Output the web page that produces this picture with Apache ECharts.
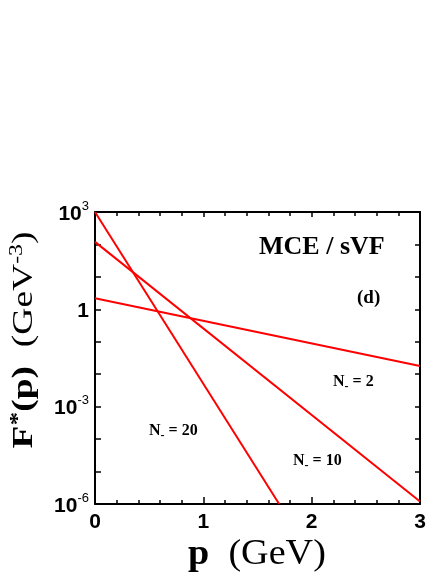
<!DOCTYPE html>
<html>
<head>
<meta charset="utf-8">
<script src="https://cdn.jsdelivr.net/npm/echarts@6/dist/echarts.min.js"></script>
<style>
  html, body { margin: 0; padding: 0; background: #fff; }
  #main { width: 445px; height: 576px; }
</style>
</head>
<body>
<div id="main"></div>
<script>
var chartDom = document.getElementById('main');
var myChart = echarts.init(chartDom);
var option;

// curves: [p (GeV), F*(p)]
var curveN20 = [[0, 1000], [1.70, 1e-6]];
var curveN10 = [[0, 120], [3, 1.2e-6]];
var curveN2 = [[0, 2.2], [3, 0.018]];

var xTicks = [0, 1, 2, 3];
var yLabelExps = [-6, -3, 0, 3];

var serif = '"Liberation Serif", "DejaVu Serif", serif';
var sans = '"Liberation Sans", Arial, sans-serif';

function yLabel(v) {
    var e = Math.round(Math.log10(v));
    if (yLabelExps.indexOf(e) < 0) return '';
    if (e === 0) return '{b|1}';
    return '{b|10}{sup|' + e + '}';
}

function lineSeries(name, data) {
    return {
        name: name,
        type: 'line',
        data: data,
        symbol: 'none',
        lineStyle: { color: '#ff0000', width: 2 },
        clip: true,
        animation: false
    };
}

function nLabel(txt, x, y) {
    return {
        type: 'text', left: x, top: y,
        style: {
            text: 'N{s|-} = ' + txt,
            fontFamily: serif, fontWeight: 'bold', fontSize: 16, fill: '#000',
            rich: { s: { fontFamily: serif, fontWeight: 'bold', fontSize: 12, verticalAlign: 'top', padding: [9, 0, 0, 0] } }
        }
    };
}

var axisLineStyle = { color: '#000', width: 2 };

option = {
    animation: false,
    grid: { left: 95, top: 212, right: 25, bottom: 72 },
    xAxis: [
        {
            type: 'value',
            min: 0, max: 3, interval: 1,
            axisLine: { onZero: false, lineStyle: axisLineStyle },
            axisTick: { inside: true, length: 7, lineStyle: { color: '#000', width: 1.5 } },
            minorTick: { show: true, splitNumber: 5, length: 4, lineStyle: { color: '#000', width: 1.5 } },
            splitLine: { show: false },
            axisLabel: {
                margin: 8,
                color: '#000',
                fontFamily: sans,
                fontWeight: 'bold',
                fontSize: 21,
                formatter: function (v) { return xTicks.indexOf(v) >= 0 ? String(v) : ''; }
            }
        },
        {
            type: 'value',
            position: 'top',
            min: 0, max: 3, interval: 1,
            axisLine: { show: true, onZero: false, lineStyle: axisLineStyle },
            axisTick: { inside: true, length: 5, lineStyle: { color: '#000', width: 1.5 } },
            minorTick: { show: true, splitNumber: 5, length: 4, lineStyle: { color: '#000', width: 1.5 } },
            splitLine: { show: false },
            axisLabel: { show: false }
        }
    ],
    yAxis: [
        {
            type: 'log',
            logBase: 10,
            min: 1e-6, max: 1e3,
            axisLine: { show: true, onZero: false, lineStyle: axisLineStyle },
            axisTick: { show: true, inside: true, length: 6, lineStyle: { color: '#000', width: 1.5 } },
            splitLine: { show: false },
            axisLabel: {
                margin: 6,
                color: '#000',
                formatter: yLabel,
                rich: {
                    b: { fontFamily: sans, fontWeight: 'bold', fontSize: 21, color: '#000', padding: [4, 0, 0, 0] },
                    sup: { fontFamily: sans, fontSize: 13, color: '#000', verticalAlign: 'bottom', padding: [0, 0, 12, 0] }
                }
            }
        },
        {
            type: 'log',
            logBase: 10,
            position: 'right',
            min: 1e-6, max: 1e3,
            axisLine: { show: true, onZero: false, lineStyle: axisLineStyle },
            axisTick: { show: true, inside: true, length: 5, lineStyle: { color: '#000', width: 1.5 } },
            splitLine: { show: false },
            axisLabel: { show: false }
        }
    ],
    graphic: [
        {
            type: 'text', left: 259, top: 234,
            style: { text: 'MCE / sVF', fontFamily: serif, fontWeight: 'bold', fontSize: 26, fill: '#000' }
        },
        {
            type: 'text', left: 357, top: 289,
            style: { text: '(d)', fontFamily: serif, fontWeight: 'bold', fontSize: 19, fill: '#000' }
        },
        nLabel('2', 333, 374),
        nLabel('20', 149, 423),
        nLabel('10', 293, 453),
        {
            type: 'text', x: 257, y: 555, scaleX: 1.06,
            style: {
                text: '{b|p}{r|  (GeV)}',
                align: 'center', verticalAlign: 'middle',
                rich: {
                    b: { fontFamily: serif, fontWeight: 'bold', fontSize: 36, fill: '#000' },
                    r: { fontFamily: serif, fontSize: 36, fill: '#000' }
                }
            }
        },
        {
            type: 'text', x: 24, y: 340, rotation: Math.PI / 2, scaleX: 1.25,
            style: {
                text: '{b|F}{sup|*}{b|(p)}{r|  (GeV}{rs|-3}{r|)}',
                align: 'center', verticalAlign: 'middle',
                rich: {
                    b: { fontFamily: serif, fontWeight: 'bold', fontSize: 30, fill: '#000' },
                    sup: { fontFamily: serif, fontWeight: 'bold', fontSize: 22, fill: '#000', verticalAlign: 'bottom', padding: [0, 0, 12, 0] },
                    r: { fontFamily: serif, fontSize: 30, fill: '#000' },
                    rs: { fontFamily: serif, fontSize: 19, fill: '#000', verticalAlign: 'bottom', padding: [0, 0, 14, 0] }
                }
            }
        }
    ],
    series: [
        lineSeries('N20', curveN20),
        lineSeries('N10', curveN10),
        lineSeries('N2', curveN2)
    ]
};

myChart.setOption(option);
</script>
</body>
</html>
